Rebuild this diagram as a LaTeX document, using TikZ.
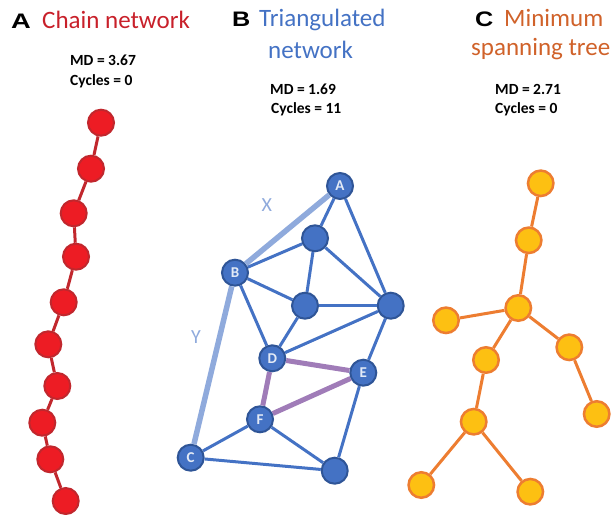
\documentclass[tikz,border=0pt]{standalone}
\usepackage{fontspec}
\setmainfont{Carlito}
\newfontfamily\letterfont{Liberation Sans}
\usepackage{tikz}

\definecolor{chainred}{HTML}{ED1C24}
\definecolor{chaindark}{HTML}{C1272D}
\definecolor{netblue}{HTML}{4472C4}
\definecolor{netdark}{HTML}{2F5597}
\definecolor{netlight}{HTML}{8FAADC}
\definecolor{netpurple}{HTML}{A07CB8}
\definecolor{treeorange}{HTML}{ED7D31}
\definecolor{treeyellow}{HTML}{FDC012}
\definecolor{titlered}{HTML}{C8202A}
\definecolor{titleorange}{HTML}{D0622A}

\tikzstyle{cred}=[circle, draw=chaindark, line width=2pt, fill=chainred, minimum size=26pt, inner sep=0pt]
\tikzstyle{cblu}=[circle, draw=netdark, line width=2pt, fill=netblue, minimum size=26pt, inner sep=0pt, text=white!85!netblue, font=\fontsize{15}{15}\selectfont\bfseries]
\tikzstyle{cyel}=[circle, draw=treeorange, line width=2.5pt, fill=treeyellow, minimum size=25.5pt, inner sep=0pt]
\tikzstyle{panel}=[anchor=base west, inner sep=0pt, font=\fontsize{21}{21}\selectfont\letterfont\bfseries]
\tikzstyle{title}=[anchor=base west, inner sep=0pt, font=\fontsize{25}{25}\selectfont]
\tikzstyle{stat}=[anchor=base west, inner sep=0pt, font=\fontsize{15.5}{15.5}\selectfont\bfseries]
\tikzstyle{lchain}=[chaindark, line width=3pt]
\tikzstyle{lnet}=[netblue, line width=3pt]
\tikzstyle{ltree}=[treeorange, line width=3pt]

\begin{document}
\begin{tikzpicture}[x=1pt, y=-1pt]
\useasboundingbox (0,0) rectangle (612,514);

% headings
\node[panel] (pa) at (11,28) {\scalebox{1.3}[1]{A}};
\node[title, titlered] (ta) at (42,28) {Chain network};
\node[stat] (ma) at (70,65.7) {MD = 3.67};
\node[stat] (ca) at (70,85) {Cycles = 0};

\node[panel] (pb) at (232,26) {\scalebox{1.2}[1]{B}};
\node[title, netblue] (tb1) at (259,26) {Triangulated};
\node[title, netblue] (tb2) at (268,58) {network};
\node[stat] (mb) at (270,94.3) {MD = 1.69};
\node[stat] (cb) at (271,113) {Cycles = 11};

\node[panel] (pc) at (475,26) {\scalebox{1.2}[1]{C}};
\node[title, titleorange] (tc1) at (504,26) {Minimum};
\node[title, titleorange] (tc2) at (471,55) {spanning tree};
\node[stat] (mc) at (495,94.3) {MD = 2.71};
\node[stat] (cc) at (495,113) {Cycles = 0};

% chain network
\node[cred] (a1) at (101,122.7) {};
\node[cred] (a2) at (91,168.7) {};
\node[cred] (a3) at (73.7,213.3) {};
\node[cred] (a4) at (76,256.7) {};
\node[cred] (a5) at (63.7,302.3) {};
\node[cred] (a6) at (48.3,344.3) {};
\node[cred] (a7) at (57.3,386) {};
\node[cred] (a8) at (42.3,422.7) {};
\node[cred] (a9) at (50.3,459.3) {};
\node[cred] (a10) at (65.7,501) {};

\draw[lchain] (a1) -- (a2) -- (a3) -- (a4) -- (a5) -- (a6) -- (a7) -- (a8) -- (a9) -- (a10);

% triangulated network
\node[cblu] (bA) at (340,186) {A};
\node[cblu] (b2) at (315,238.3) {};
\node[cblu] (bB) at (235,272.7) {B};
\node[cblu] (b4) at (305,305.7) {};
\node[cblu] (b5) at (390.7,305.7) {};
\node[cblu] (bD) at (272.3,358.3) {D};
\node[cblu] (bE) at (363.3,372.7) {E};
\node[cblu] (bF) at (260,419.3) {F};
\node[cblu] (bC) at (190.7,457.7) {C};
\node[cblu] (b10) at (334.7,470.7) {};

\draw[netlight, line width=5.5pt] (bA) -- (bB);
\draw[netlight, line width=5.5pt] (bB) -- (bC);
\draw[lnet] (bA) -- (b2);
\draw[lnet] (bA) -- (b5);
\draw[lnet] (b2) -- (bB);
\draw[lnet] (b2) -- (b4);
\draw[lnet] (b2) -- (b5);
\draw[lnet] (bB) -- (b4);
\draw[lnet] (bB) -- (bD);
\draw[lnet] (b4) -- (b5);
\draw[lnet] (b4) -- (bD);
\draw[lnet] (bD) -- (b5);
\draw[lnet] (b5) -- (bE);
\draw[lnet] (bF) -- (bC);
\draw[lnet] (bF) -- (b10);
\draw[lnet] (bC) -- (b10);
\draw[lnet] (bE) -- (b10);
\draw[netpurple, line width=5pt] (bD) -- (bE);
\draw[netpurple, line width=5pt] (bD) -- (bF);
\draw[netpurple, line width=5pt] (bF) -- (bE);

\node[netlight, font=\fontsize{20}{20}\selectfont] (lx) at (266.7,205) {X};
\node[netlight, font=\fontsize{20}{20}\selectfont] (ly) at (196,337) {Y};

% minimum spanning tree
\node[cyel] (c1) at (540.7,183.3) {};
\node[cyel] (c2) at (528.7,240.3) {};
\node[cyel] (c3) at (518.3,308) {};
\node[cyel] (c4) at (446,320.3) {};
\node[cyel] (c5) at (486,360) {};
\node[cyel] (c6) at (569.3,347.3) {};
\node[cyel] (c7) at (596.7,414) {};
\node[cyel] (c8) at (473.7,421.7) {};
\node[cyel] (c9) at (421.3,485) {};
\node[cyel] (c10) at (530.3,491.7) {};

\draw[ltree] (c1) -- (c2);
\draw[ltree] (c2) -- (c3);
\draw[ltree] (c3) -- (c4);
\draw[ltree] (c3) -- (c5);
\draw[ltree] (c3) -- (c6);
\draw[ltree] (c6) -- (c7);
\draw[ltree] (c5) -- (c8);
\draw[ltree] (c8) -- (c9);
\draw[ltree] (c8) -- (c10);

\end{tikzpicture}
\end{document}
